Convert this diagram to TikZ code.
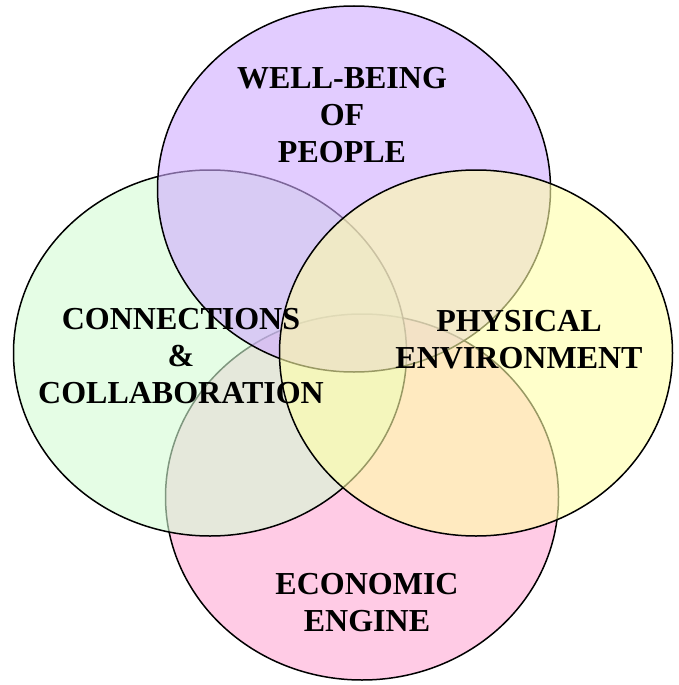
\documentclass[tikz,border=0pt]{standalone}
\usepackage{fontspec}
\setmainfont{Liberation Serif}
\usepackage{tikz}
\usetikzlibrary{shapes.geometric,positioning}

\definecolor{wbfill}{RGB}{207,170,255}
\definecolor{ccfill}{RGB}{212,252,212}
\definecolor{pefill}{RGB}{255,255,168}
\definecolor{eefill}{RGB}{255,168,212}

\tikzset{
  ring/.style={ellipse,draw=black,line width=1.5pt,fill opacity=0.6,
    minimum width=393pt,minimum height=366pt,inner sep=0pt},
  title/.style={align=center,font=\fontsize{32}{37}\selectfont\bfseries,text=black}
}

\begin{document}
\begin{tikzpicture}[x=1pt,y=-1pt]
\useasboundingbox (0,0) rectangle (678,685);
\node[ring,fill=eefill] (ee) at (362,497) {};
\node[ring,fill=ccfill] (cc) at (210,353) {};
\node[ring,fill=wbfill] (wb) at (354,189) {};
\node[ring,fill=pefill] (pe) at (476,353) {};
\node[title] (wb_t) at (342,115) {WELL-BEING\\OF\\PEOPLE};
\node[title] (cc_t) at (181,356) {CONNECTIONS\\\&\\COLLABORATION};
\node[title] (pe_t) at (519,340) {PHYSICAL\\ENVIRONMENT};
\node[title] (ee_t) at (367,603) {ECONOMIC\\ENGINE};
\end{tikzpicture}
\end{document}
